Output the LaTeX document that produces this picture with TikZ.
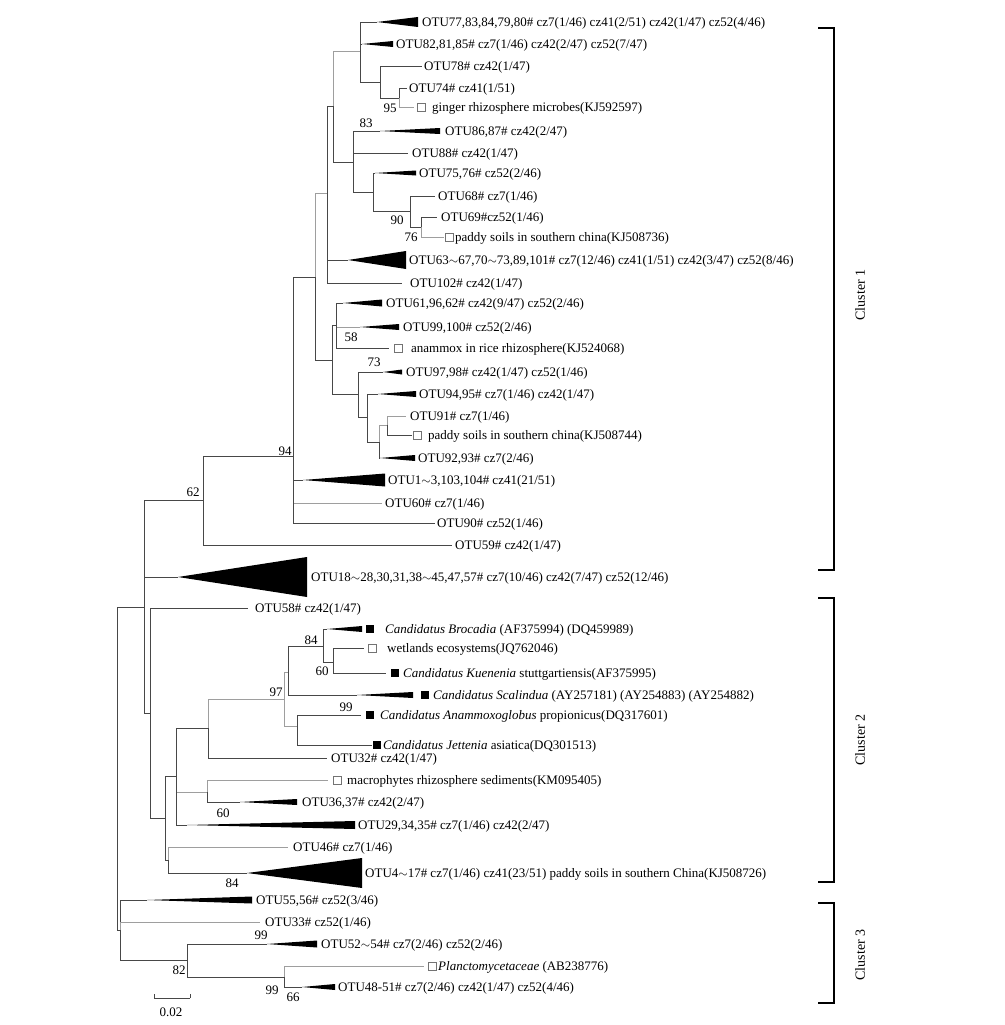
\documentclass[tikz,border=0pt]{standalone}
\usepackage{fontspec}
\setmainfont{Liberation Serif}
\newcommand\clade[3]{\fill[black] (#1) -- ++(#2,-#3) -- ++(0,2*#3) -- cycle;}
\begin{document}
\begin{tikzpicture}[x=1pt,y=-1pt,
  br/.style={draw=black!72,line width=0.75pt},
  lt/.style={draw=black!38,line width=0.75pt},
  lab/.style={anchor=west,inner sep=0pt,font=\fontsize{13}{15}\selectfont,text height=9.5pt,text depth=1pt},
  bs/.style={inner sep=0pt,font=\fontsize{13}{15}\selectfont,text height=9pt,text depth=0pt},
  obox/.style={draw=black!55,line width=0.6pt,fill=white,minimum size=8pt,inner sep=0pt},
  fbox/.style={fill=black,minimum size=8.5pt,inner sep=0pt},
  brk/.style={draw=black,line width=1.1pt},
  clu/.style={rotate=90,font=\fontsize{14}{16}\selectfont}]
\fill[white] (0,0) rectangle (1004,1025);
\useasboundingbox (0,0) rectangle (1004,1025);
% internal nodes
\coordinate (R) at (117,768);
\coordinate (N1) at (144,607);
\coordinate (n62) at (203,500);
\coordinate (n94) at (293,456);
\coordinate (n315) at (315,277);
\coordinate (n327) at (327,193);
\coordinate (n333) at (333,106);
\coordinate (n360) at (360,51);
\coordinate (n380) at (380,82);
\coordinate (n399) at (399,98);
\coordinate (n353) at (353,162);
\coordinate (n373) at (373,192);
\coordinate (n410) at (410,211);
\coordinate (n421) at (421,227);
\coordinate (n332) at (332,360);
\coordinate (n336) at (336,325);
\coordinate (n358) at (358,394);
\coordinate (n367) at (367,417);
\coordinate (n379) at (379,442);
\coordinate (n387) at (387,425);
\coordinate (N2) at (150,713);
\coordinate (nA) at (165,818);
\coordinate (nB) at (176,776);
\coordinate (n210) at (208,728);
\coordinate (n284) at (284,699);
\coordinate (n288) at (288,672);
\coordinate (n323) at (323,646);
\coordinate (n333b) at (333,662);
\coordinate (n297) at (297,726);
\coordinate (n207) at (207,792);
\coordinate (nC) at (168,860);
\coordinate (C3) at (120,930);
\coordinate (n187) at (187,960);
\coordinate (n284c) at (284,977);
% tips and clade apices
\coordinate (a77) at (377,22);
\coordinate (a82) at (362,44);
\coordinate (t78) at (422,66);
\coordinate (t74) at (407,88);
\coordinate (tgin) at (414,107);
\coordinate (a86) at (380,131);
\coordinate (t88) at (408,153);
\coordinate (a75) at (375,173);
\coordinate (t68) at (435,196);
\coordinate (t69) at (437,217);
\coordinate (tkj736) at (444,237);
\coordinate (a63) at (348,260);
\coordinate (t102) at (402,283);
\coordinate (a61) at (343,303);
\coordinate (a99) at (360,327);
\coordinate (tana) at (389,348);
\coordinate (a97) at (383,372);
\coordinate (a94) at (378,394);
\coordinate (t91) at (406,416);
\coordinate (tkj744) at (412,435);
\coordinate (a92) at (380,458);
\coordinate (a1) at (303,480);
\coordinate (t60) at (382,503);
\coordinate (t90) at (435,523);
\coordinate (t59) at (452,545);
\coordinate (a18) at (178,577);
\coordinate (t58) at (248,608);
\coordinate (abro) at (327,629);
\coordinate (twet) at (364,648);
\coordinate (tkue) at (386,673);
\coordinate (asca) at (357,695);
\coordinate (tamx) at (361,715);
\coordinate (tjet) at (372,745);
\coordinate (t32) at (327,758);
\coordinate (tmac) at (328,780);
\coordinate (a36) at (240,802);
\coordinate (a29) at (187,825);
\coordinate (t46) at (288,847);
\coordinate (a4) at (247,873);
\coordinate (a55) at (147,900);
\coordinate (t33) at (260,922);
\coordinate (a52) at (267,944);
\coordinate (tpla) at (424,966);
\coordinate (a48) at (302,987);
% branches
\draw[br] (R) |- (N1);
\draw[br] (R) |- (C3);
\draw[br] (N1) |- (n62);
\draw[br] (N1) |- (a18);
\draw[br] (N1) |- (N2);
\draw[br] (n62) |- (n94);
\draw[br] (n62) |- (t59);
\draw[br] (n94) |- (n315);
\draw[br] (n94) |- (a1);
\draw[lt] (n94) |- (t60);
\draw[br] (n94) |- (t90);
\draw[lt] (n315) |- (n327);
\draw[br] (n315) |- (n332);
\draw[br] (n327) |- (n333);
\draw[br] (n327) |- (a63);
\draw[br] (n327) |- (t102);
\draw[lt] (n333) |- (n360);
\draw[br] (n333) |- (n353);
\draw[br] (n360) |- (a77);
\draw[br] (n360) |- (a82);
\draw[br] (n360) |- (n380);
\draw[br] (n380) |- (t78);
\draw[br] (n380) |- (n399);
\draw[br] (n399) |- (t74);
\draw[lt] (n399) |- (tgin);
\draw[br] (n353) |- (a86);
\draw[br] (n353) |- (t88);
\draw[br] (n353) |- (n373);
\draw[br] (n373) |- (a75);
\draw[br] (n373) |- (n410);
\draw[br] (n410) |- (t68);
\draw[br] (n410) |- (n421);
\draw[br] (n421) |- (t69);
\draw[lt] (n421) |- (tkj736);
\draw[br] (n332) |- (n336);
\draw[br] (n332) |- (n358);
\draw[br] (n336) |- (a61);
\draw[lt] (n336) |- (a99);
\draw[br] (n336) |- (tana);
\draw[br] (n358) |- (a97);
\draw[br] (n358) |- (n367);
\draw[br] (n367) |- (a94);
\draw[br] (n367) |- (n379);
\draw[lt] (n379) |- (n387);
\draw[br] (n379) |- (a92);
\draw[lt] (n387) |- (t91);
\draw[br] (n387) |- (tkj744);
\draw[br] (N2) |- (t58);
\draw[br] (N2) |- (nA);
\draw[br] (nA) |- (nB);
\draw[br] (nA) |- (nC);
\draw[br] (nB) |- (n210);
\draw[lt] (nB) |- (n207);
\draw[br] (nB) |- (a29);
\draw[lt] (n210) |- (n284);
\draw[br] (n210) |- (t32);
\draw[lt] (n284) |- (n288);
\draw[lt] (n284) |- (n297);
\draw[br] (n288) |- (n323);
\draw[br] (n288) |- (asca);
\draw[br] (n323) |- (abro);
\draw[br] (n323) |- (n333b);
\draw[br] (n333b) |- (twet);
\draw[br] (n333b) |- (tkue);
\draw[br] (n297) |- (tamx);
\draw[br] (n297) |- (tjet);
\draw[lt] (n207) |- (tmac);
\draw[br] (n207) |- (a36);
\draw[lt] (nC) |- (t46);
\draw[br] (nC) |- (a4);
\draw[br] (C3) |- (a55);
\draw[lt] (C3) |- (t33);
\draw[br] (C3) |- (n187);
\draw[br] (n187) |- (a52);
\draw[br] (n187) |- (n284c);
\draw[lt] (n284c) |- (tpla);
\draw[br] (n284c) |- (a48);
% collapsed clades
\clade{a77}{41}{5}
\clade{a82}{31}{3}
\clade{a86}{60}{3}
\clade{a75}{41}{2.5}
\clade{a63}{58}{9}
\clade{a61}{39}{3.5}
\clade{a99}{39}{3}
\clade{a97}{19}{2.5}
\clade{a94}{38}{3}
\clade{a92}{35}{3}
\clade{a1}{82}{6.5}
\clade{a18}{129}{20}
\clade{abro}{35}{3}
\clade{asca}{56}{3}
\clade{a36}{57}{3}
\clade{a29}{168}{4}
\clade{a4}{115}{15}
\clade{a55}{105}{3.5}
\clade{a52}{50}{3.5}
\clade{a48}{33}{3}
% reference markers
\node[obox] (bgin) at (421,107) {};
\node[obox] (bkj736) at (449,237) {};
\node[obox] (bana) at (398,348) {};
\node[obox] (bkj744) at (417,435) {};
\node[fbox] (bbro) at (370,629) {};
\node[obox] (bwet) at (372,648) {};
\node[fbox] (bkue) at (395,673) {};
\node[fbox] (bsca) at (425,695) {};
\node[fbox] (bamx) at (370,715) {};
\node[fbox] (bjet) at (377,745) {};
\node[obox] (bmac) at (337,780) {};
\node[obox] (bpla) at (432,966) {};
% labels
\node[lab] (L77) at (422,22) {OTU77,83,84,79,80\# cz7(1/46) cz41(2/51) cz42(1/47) cz52(4/46)};
\node[lab] (L82) at (396,44) {OTU82,81,85\# cz7(1/46) cz42(2/47) cz52(7/47)};
\node[lab] (L78) at (424,66) {OTU78\# cz42(1/47)};
\node[lab] (L74) at (409,88) {OTU74\# cz41(1/51)};
\node[lab] (Lgin) at (432,107) {ginger rhizosphere microbes(KJ592597)};
\node[lab] (L86) at (445,131) {OTU86,87\# cz42(2/47)};
\node[lab] (L88) at (412,153) {OTU88\# cz42(1/47)};
\node[lab] (L75) at (419,173) {OTU75,76\# cz52(2/46)};
\node[lab] (L68) at (438,196) {OTU68\# cz7(1/46)};
\node[lab] (L69) at (441,217) {OTU69\#cz52(1/46)};
\node[lab] (Lkj736) at (455,237) {paddy soils in southern china(KJ508736)};
\node[lab] (L63) at (409,260) {OTU63$\sim$67,70$\sim$73,89,101\# cz7(12/46) cz41(1/51) cz42(3/47) cz52(8/46)};
\node[lab] (L102) at (410,283) {OTU102\# cz42(1/47)};
\node[lab] (L61) at (386,303) {OTU61,96,62\# cz42(9/47) cz52(2/46)};
\node[lab] (L99) at (403,327) {OTU99,100\# cz52(2/46)};
\node[lab] (Lana) at (411,348) {anammox in rice rhizosphere(KJ524068)};
\node[lab] (L97) at (406,372) {OTU97,98\# cz42(1/47) cz52(1/46)};
\node[lab] (L94) at (419,394) {OTU94,95\# cz7(1/46) cz42(1/47)};
\node[lab] (L91) at (410,416) {OTU91\# cz7(1/46)};
\node[lab] (Lkj744) at (428,435) {paddy soils in southern china(KJ508744)};
\node[lab] (L92) at (418,458) {OTU92,93\# cz7(2/46)};
\node[lab] (L1) at (388,480) {OTU1$\sim$3,103,104\# cz41(21/51)};
\node[lab] (L60) at (385,503) {OTU60\# cz7(1/46)};
\node[lab] (L90) at (437,523) {OTU90\# cz52(1/46)};
\node[lab] (L59) at (455,545) {OTU59\# cz42(1/47)};
\node[lab] (L18) at (311,577) {OTU18$\sim$28,30,31,38$\sim$45,47,57\# cz7(10/46) cz42(7/47) cz52(12/46)};
\node[lab] (L58) at (255,608) {OTU58\# cz42(1/47)};
\node[lab] (Lbro) at (385,629) {\textit{Candidatus Brocadia} (AF375994) (DQ459989)};
\node[lab] (Lwet) at (387,648) {wetlands ecosystems(JQ762046)};
\node[lab] (Lkue) at (403,673) {\textit{Candidatus Kuenenia} stuttgartiensis(AF375995)};
\node[lab] (Lsca) at (433,695) {\textit{Candidatus Scalindua} (AY257181) (AY254883) (AY254882)};
\node[lab] (Lamx) at (380,715) {\textit{Candidatus Anammoxoglobus} propionicus(DQ317601)};
\node[lab] (Ljet) at (383,745) {\textit{Candidatus Jettenia} asiatica(DQ301513)};
\node[lab] (L32) at (331,758) {OTU32\# cz42(1/47)};
\node[lab] (Lmac) at (347,780) {macrophytes rhizosphere sediments(KM095405)};
\node[lab] (L36) at (302,802) {OTU36,37\# cz42(2/47)};
\node[lab] (L29) at (358,825) {OTU29,34,35\# cz7(1/46) cz42(2/47)};
\node[lab] (L46) at (293,847) {OTU46\# cz7(1/46)};
\node[lab] (L4) at (365,873) {OTU4$\sim$17\# cz7(1/46) cz41(23/51) paddy soils in southern China(KJ508726)};
\node[lab] (L55) at (256,900) {OTU55,56\# cz52(3/46)};
\node[lab] (L33) at (265,922) {OTU33\# cz52(1/46)};
\node[lab] (L52) at (321,944) {OTU52$\sim$54\# cz7(2/46) cz52(2/46)};
\node[lab] (Lpla) at (438,966) {\textit{Planctomycetaceae} (AB238776)};
\node[lab] (L48) at (338,987) {OTU48-51\# cz7(2/46) cz42(1/47) cz52(4/46)};
% bootstrap values
\node[bs] (b95) at (390,108) {95};
\node[bs] (b83) at (366,123) {83};
\node[bs] (b90) at (397,220) {90};
\node[bs] (b76) at (411,237) {76};
\node[bs] (b58) at (351,337) {58};
\node[bs] (b73) at (374,362) {73};
\node[bs] (b94) at (285,451) {94};
\node[bs] (b62) at (193,492) {62};
\node[bs] (b84a) at (311,640) {84};
\node[bs] (b60a) at (322,671) {60};
\node[bs] (b97) at (276,692) {97};
\node[bs] (b99a) at (346,707) {99};
\node[bs] (b60b) at (223,813) {60};
\node[bs] (b84b) at (232,883) {84};
\node[bs] (b99b) at (261,935) {99};
\node[bs] (b82) at (179,970) {82};
\node[bs] (b99c) at (272,990) {99};
\node[bs] (b66) at (293,997) {66};
% scale bar
\coordinate (s1) at (154,998);
\coordinate (s2) at (190,998);
\draw[br] (s1) -- (s2);
\draw[br] (s1) -- ++(0,-4);
\draw[br] (s2) -- ++(0,-4);
\node[bs] (sl) at (171,1012) {0.02};
% cluster brackets
\coordinate (k1a) at (818,28);
\coordinate (k1b) at (818,570);
\coordinate (k2a) at (818,598);
\coordinate (k2b) at (818,882);
\coordinate (k3a) at (818,903);
\coordinate (k3b) at (818,1003);
\draw[brk] (k1a) -- ++(16,0) |- (k1b);
\draw[brk] (k2a) -- ++(16,0) |- (k2b);
\draw[brk] (k3a) -- ++(16,0) |- (k3b);
\node[clu] (c1) at (860,295) {Cluster 1};
\node[clu] (c2) at (860,740) {Cluster 2};
\node[clu] (c3) at (860,955) {Cluster 3};
\end{tikzpicture}
\end{document}
